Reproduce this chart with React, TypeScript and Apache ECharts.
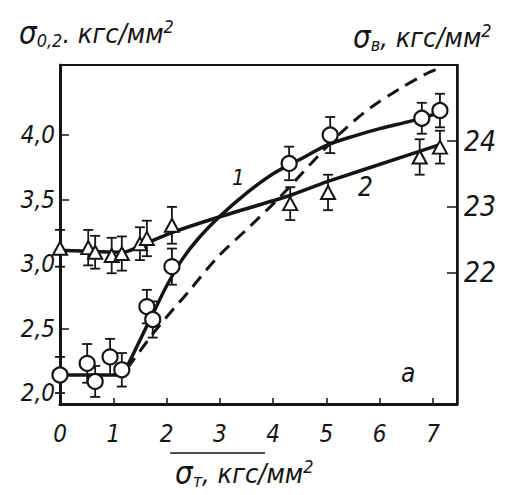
import React, { useEffect, useRef } from "react";
import * as echarts from "echarts";

// Curve 1 (circles) – σ0,2, left axis
const circleX = [0, 0.51, 0.66, 0.94, 1.16, 1.63, 1.74, 2.1, 4.3, 5.07, 6.79, 7.13];
const circleY = [2.14, 2.23, 2.09, 2.28, 2.18, 2.67, 2.57, 2.98, 3.78, 4.0, 4.13, 4.19];
const circleErr = [0.14, 0.15, 0.12, 0.14, 0.13, 0.13, 0.14, 0.14, 0.13, 0.14, 0.12, 0.13];
const curve1X = [0, 1.15, 1.3, 1.5, 1.75, 2.0, 2.3, 2.6, 3.0, 3.5, 4.0, 4.5, 5.0, 5.5, 6.0, 6.6, 7.1];
const curve1Y = [2.14, 2.14, 2.24, 2.41, 2.62, 2.83, 3.04, 3.2, 3.37, 3.55, 3.7, 3.81, 3.92, 3.99, 4.05, 4.11, 4.17];

// Curve 2 (triangles) – σв, right axis
const triX = [0, 0.53, 0.66, 0.97, 1.16, 1.5, 1.63, 2.1, 4.32, 5.03, 6.75, 7.13];
const triY = [22.37, 22.38, 22.31, 22.26, 22.29, 22.44, 22.52, 22.72, 23.05, 23.22, 23.76, 23.91];
const triErr = [0.28, 0.27, 0.25, 0.27, 0.26, 0.25, 0.27, 0.28, 0.25, 0.27, 0.27, 0.25];
const curve2X = [0, 1.2, 1.6, 2.1, 3.0, 4.3, 5.0, 6.5, 7.1];
const curve2Y = [22.34, 22.31, 22.44, 22.61, 22.85, 23.17, 23.38, 23.78, 23.94];

// Dashed curve – left axis
const dashX = [1.26, 1.82, 2.4, 2.95, 3.56, 4.13, 4.69, 5.25, 5.82, 6.38, 6.85, 7.07];
const dashY = [2.19, 2.5, 2.78, 3.05, 3.29, 3.52, 3.77, 4.01, 4.21, 4.36, 4.47, 4.51];

// Tick labels
const xLabels = [0, 1, 2, 3, 4, 5, 6, 7];
const xTicks = [1, 2, 3, 4, 5, 6, 7];
const leftLabels = [2.0, 2.5, 3.0, 3.5, 4.0];
const leftTicks = [2.5, 3.5, 4.0];
const rightLabels = [22, 23, 24];

const FONT = "'Liberation Sans Narrow', 'DejaVu Sans Condensed', 'Liberation Sans', sans-serif";
const INK = "#151515";

const zip = (a: number[], b: number[], c?: number[]) =>
  a.map((v, i) => (c ? [v, b[i], c[i]] : [v, b[i]]));

const errRender = (params: any, api: any) => {
  const x = api.value(0);
  const y = api.value(1);
  const e = api.value(2);
  const p1 = api.coord([x, y + e]);
  const p2 = api.coord([x, y - e]);
  const w = 5;
  const st = { stroke: INK, lineWidth: 1.8 };
  return {
    type: "group",
    children: [
      { type: "line", shape: { x1: p1[0], y1: p1[1], x2: p2[0], y2: p2[1] }, style: st },
      { type: "line", shape: { x1: p1[0] - w, y1: p1[1], x2: p1[0] + w, y2: p1[1] }, style: st },
      { type: "line", shape: { x1: p2[0] - w, y1: p2[1], x2: p2[0] + w, y2: p2[1] }, style: st },
    ],
  };
};

const tok = (size: number, extra: any = {}) => ({
  fontSize: size,
  fontStyle: "italic",
  fontWeight: "normal",
  fontFamily: FONT,
  color: INK,
  ...extra,
});

const richBase = {
  s: tok(31),
  sub: tok(18, { verticalAlign: "bottom", padding: [12, 0, 0, 0] }),
  t: tok(27),
  sup: tok(18, { verticalAlign: "top", padding: [0, 0, 14, 0] }),
};

export default function App() {
  const ref = useRef<HTMLDivElement>(null);
  useEffect(() => {
    if (!ref.current) return;
    const chart = echarts.init(ref.current, undefined, { renderer: "svg" });
    const labelStyle = { fontSize: 24, fontStyle: "italic", fontFamily: FONT, color: INK };
    chart.setOption({
      animation: false,
      backgroundColor: "#fff",
      title: [
        { text: "{s|σ}{sub|0,2}{t|. кгс/мм}{sup|2}", left: 14, top: 12, textStyle: { fontWeight: "normal", rich: richBase } },
        { text: "{s|σ}{sub|в}{t|, кгс/мм}{sup|2}", left: 348, top: 16, textStyle: { fontWeight: "normal", rich: richBase } },
        { text: "{s|σ}{sub|т}{t|, кгс/мм}{sup|2}", left: 170, top: 452, textStyle: { fontWeight: "normal", rich: richBase } },
      ],
      grid: { left: 60, right: 48, top: 65, bottom: 91, show: true, borderColor: INK, borderWidth: 2, backgroundColor: "transparent" },
      xAxis: {
        type: "value",
        min: 0,
        max: 7.45,
        axisLine: { show: true, lineStyle: { color: INK, width: 3 } },
        axisTick: { show: true, inside: true, length: 6, customValues: xTicks, lineStyle: { color: INK, width: 1.5 } },
        axisLabel: { customValues: xLabels, margin: 18, ...labelStyle },
        splitLine: { show: false },
      },
      yAxis: [
        {
          type: "value",
          min: 1.915,
          max: 4.543,
          position: "left",
          axisLine: { show: true, lineStyle: { color: INK, width: 3 } },
          axisTick: { show: true, inside: true, length: 9, customValues: leftTicks, lineStyle: { color: INK, width: 1.5 } },
          axisLabel: { customValues: leftLabels, margin: 5, formatter: (v: number) => v.toFixed(1).replace(".", ","), ...labelStyle },
          splitLine: { show: false },
        },
        {
          type: "value",
          min: 20,
          max: 25.16,
          position: "right",
          axisLine: { show: true, lineStyle: { color: INK, width: 2.5 } },
          axisTick: { show: true, inside: true, length: 10, customValues: rightLabels, lineStyle: { color: INK, width: 1.5 } },
          axisLabel: { customValues: rightLabels, margin: 7, ...labelStyle, fontSize: 28 },
          splitLine: { show: false },
        },
      ],
      graphic: [
        { type: "text", left: 232, top: 166, style: { text: "1", font: `italic 22px ${FONT}`, fill: INK } },
        { type: "text", left: 358, top: 174, style: { text: "2", font: `italic 26px ${FONT}`, fill: INK } },
        { type: "text", left: 401, top: 360, style: { text: "a", font: `italic 26px ${FONT}`, fill: INK } },
        { type: "line", shape: { x1: 170, y1: 453, x2: 265, y2: 453 }, style: { stroke: INK, lineWidth: 1.5 } },
      ],
      series: [
        {
          type: "line",
          yAxisIndex: 0,
          data: zip(dashX, dashY),
          smooth: 0.3,
          showSymbol: false,
          lineStyle: { color: INK, width: 3, type: [13, 8] },
          z: 2,
        },
        {
          type: "line",
          yAxisIndex: 0,
          data: zip(curve1X, curve1Y),
          smooth: 0.3,
          showSymbol: false,
          lineStyle: { color: INK, width: 3.5 },
          z: 2,
        },
        {
          type: "line",
          yAxisIndex: 1,
          data: zip(curve2X, curve2Y),
          smooth: 0.2,
          showSymbol: false,
          lineStyle: { color: INK, width: 3.5 },
          z: 2,
        },
        { type: "custom", yAxisIndex: 0, data: zip(circleX, circleY, circleErr), renderItem: errRender, encode: { x: 0, y: 1 }, z: 3 },
        { type: "custom", yAxisIndex: 1, data: zip(triX, triY, triErr), renderItem: errRender, encode: { x: 0, y: 1 }, z: 3 },
        {
          type: "scatter",
          yAxisIndex: 0,
          data: zip(circleX, circleY),
          symbol: "circle",
          symbolSize: 15,
          itemStyle: { color: "#fff", borderColor: INK, borderWidth: 2.2, opacity: 1 },
          z: 5,
        },
        {
          type: "scatter",
          yAxisIndex: 1,
          data: zip(triX, triY),
          symbol: "triangle",
          symbolSize: [14, 13],
          itemStyle: { color: "#fff", borderColor: INK, borderWidth: 2, opacity: 1 },
          z: 5,
        },
      ],
    });
    return () => chart.dispose();
  }, []);
  return <div ref={ref} style={{ width: 505, height: 495, position: "absolute", left: 0, top: 0 }} />;
}
